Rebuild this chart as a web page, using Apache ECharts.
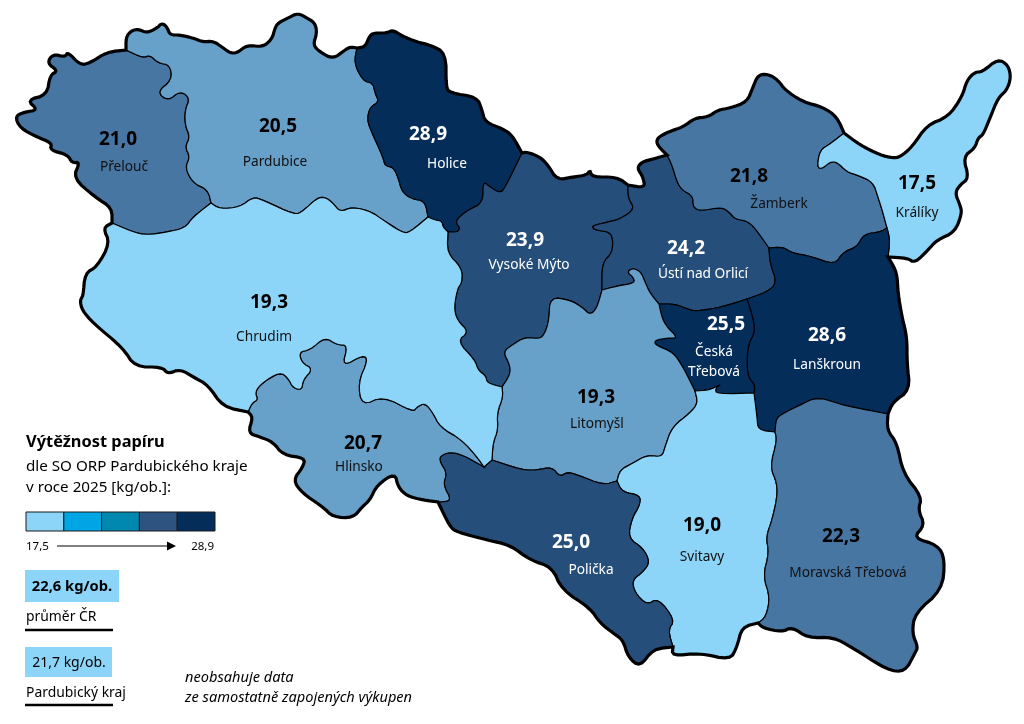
<!DOCTYPE html>
<html><head><meta charset="utf-8">
<style>html,body{margin:0;padding:0;background:#fff}#c{width:1024px;height:724px}</style>
<script src="https://cdn.jsdelivr.net/npm/echarts@6/dist/echarts.min.js"></script>
</head><body><div id="c"></div>
<script>
// ---- data ----
const regionNames = ['Přelouč','Pardubice','Holice','Vysoké Mýto','Ústí nad Orlicí','Žamberk','Králíky','Lanškroun','Česká Třebová','Litomyšl','Svitavy','Moravská Třebová','Polička','Hlinsko','Chrudim'];
const regionValues = [21.0,20.5,28.9,23.9,24.2,21.8,17.5,28.6,25.5,19.3,19.0,22.3,25.0,20.7,19.3];
const regionTiers  = [2,1,4,3,3,2,0,4,4,1,0,2,3,1,0];
const tierColors   = ['#8DD5F8','#67A0C8','#4776A3','#264E7A','#042D5A'];
const legendColors = ['#8DD5F8','#00A5E3','#0088B0','#2F5380','#042D5A'];
const legendEnds   = ['17,5','28,9'];
const valuePos = [[118,140],[278,127],[428,135],[525,241],[686,249],[749,177],[917,184],[827,336],[726,325],[596,398],[702,526],[841,537],[571,543],[363,444],[269,303]];
const namePos  = [[124,167],[275,162],[447,164],[529,265],[703,274],[779,204],[917,213],[827,365],[714,362],[597,424],[702,557],[848,573],[591,570],[359,467],[264,337]];
const nameText = {'Česká Třebová':'Česká\nTřebová'};

// ---- map geometry: shared boundaries (map units) ----
const parTop=[[126,50],[126,37],[131,31],[138,29],[147,33],[157,28],[162,23],[167,27],[170,35],[180,35],[193,38],[203,42],[213,41],[222,47],[230,53],[237,53],[247,45],[263,47],[272,39],[275,28],[278,23],[288,18],[298,13],[307,18],[315,23],[317,33],[313,45],[320,52],[333,59],[345,50],[350,47],[357,48]];
const holTop=[[357,48],[365,47],[370,35],[375,33],[387,33],[393,30],[402,36],[417,42],[430,45],[446,53],[446,87],[450,93],[477,97],[482,110],[485,122],[503,129],[512,135],[522,153]];
const vmTop=[[522,153],[527,152],[540,157],[548,165],[557,180],[573,177],[587,175],[590,170],[592,177],[617,177],[628,185]];
const ustTop=[[628,185],[645,188],[643,177],[637,168],[642,162],[653,159],[667,155]];
const zamTop=[[667,155],[657,145],[657,138],[668,132],[683,127],[695,118],[708,117],[718,110],[730,108],[747,102],[753,87],[758,75],[768,74],[778,80],[785,90],[803,102],[823,107],[837,117],[844,133]];
const kraTop=[[844,133],[860,145],[880,155],[893,158],[900,157],[912,147],[927,125],[948,117],[962,97],[967,80],[975,72],[982,72],[998,59],[1008,65],[1011,77],[1007,90],[998,98],[990,118],[983,135],[978,138],[975,148],[963,157],[969,178],[960,185],[955,193],[960,205],[962,213],[955,232],[937,240],[928,250],[915,263],[907,258],[888,257]];
const lanOut=[[888,257],[890,260],[897,273],[898,293],[902,317],[907,337],[907,363],[910,390],[893,402],[888,414]];
const morOut=[[888,414],[887,430],[897,443],[903,473],[922,497],[918,510],[925,525],[913,538],[938,545],[945,560],[942,590],[915,613],[912,633],[918,647],[915,653],[905,672],[887,670],[853,648],[833,637],[808,638],[792,627],[782,632],[763,628],[758,623]];
const sviOut=[[673,647],[672,656],[700,653],[730,660],[737,647],[742,627],[758,623]];
const polOut=[[438,502],[450,527],[457,532],[487,540],[510,545],[530,560],[552,567],[562,590],[590,608],[600,623],[613,633],[623,640],[628,657],[640,667],[653,649],[673,647]];
const hliOut=[[248,412],[253,417],[248,433],[260,437],[273,442],[283,455],[305,458],[303,467],[293,480],[302,493],[323,507],[333,517],[353,518],[362,507],[370,500],[377,485],[395,473],[398,487],[407,496],[423,500],[438,502]];
const chrOut=[[112,223],[103,228],[110,243],[97,267],[85,273],[83,297],[80,300],[82,310],[93,323],[123,348],[135,367],[162,367],[168,374],[180,369],[195,378],[208,385],[223,407],[248,412]];
const preOut=[[112,223],[112,208],[95,197],[73,178],[80,162],[72,163],[68,155],[50,150],[52,143],[37,137],[20,128],[15,116],[25,112],[38,110],[27,100],[47,95],[50,75],[58,71],[47,63],[53,54],[65,57],[68,52],[80,65],[90,63],[107,52],[126,50]];
const prePar=[[126,50],[143,58],[150,55],[158,63],[170,65],[172,80],[157,92],[168,101],[180,91],[190,98],[185,110],[185,125],[190,137],[185,147],[190,157],[185,168],[193,183],[208,190],[211,203]];
const preChr=[[211,203],[193,217],[185,228],[167,232],[147,235],[133,232],[112,223]];
const parChr=[[211,203],[220,209],[240,207],[253,197],[263,200],[295,215],[303,211],[317,198],[325,197],[333,203],[340,212],[352,207],[370,211],[383,220],[403,233],[410,232],[428,217]];
const parHol=[[357,48],[354,63],[363,81],[373,83],[375,93],[379,102],[370,107],[367,120],[372,133],[383,157],[385,166],[393,167],[398,177],[402,192],[412,199],[425,201],[428,217]];
const holChr=[[428,217],[435,220],[442,221],[443,227],[448,232]];
const holVm=[[448,232],[458,232],[460,228],[456,223],[458,218],[468,210],[483,203],[483,181],[490,187],[500,193],[505,188],[522,153]];
const vmChr=[[448,232],[447,253],[462,268],[462,283],[458,287],[454,307],[457,320],[469,332],[457,341],[475,360],[478,370],[486,376],[487,383],[502,387]];
const vmUst=[[628,185],[628,198],[635,209],[620,219],[608,222],[591,226],[595,230],[610,232],[613,240],[612,253],[602,263],[602,290]];
const vmLit=[[502,387],[510,375],[510,365],[503,352],[512,345],[525,337],[540,339],[545,333],[549,320],[550,297],[570,300],[582,307],[590,315],[597,308],[602,290]];
const ustLit=[[602,290],[617,286],[635,283],[633,277],[627,272],[633,268],[641,272],[645,282],[650,293],[659,304]];
const ustCt=[[659,304],[675,304],[690,310],[697,311],[717,308],[735,303],[747,299]];
const ustLan=[[747,299],[767,292],[777,283],[770,263],[769,248]];
const zamUst=[[667,155],[672,165],[677,182],[682,190],[693,196],[693,207],[700,211],[722,207],[730,213],[735,219],[747,221],[755,228],[769,248]];
const zamLan=[[769,248],[783,247],[792,253],[810,256],[835,265],[843,252],[857,247],[864,234],[880,232],[887,228]];
const zamKra=[[887,228],[883,213],[878,197],[873,182],[857,175],[847,172],[837,162],[830,162],[822,169],[817,167],[820,150],[830,144],[844,133]];
const kraLan=[[887,228],[890,240],[888,257]];
const lanMor=[[888,414],[867,410],[843,405],[837,403],[817,397],[800,405],[780,415],[776,420],[775,432]];
const lanSvi=[[775,432],[758,430],[757,417],[754,393]];
const ctLan=[[747,299],[753,318],[755,332],[748,345],[747,363],[748,377],[755,385],[754,393]];
const ctSvi=[[754,393],[717,394],[715,389],[721,384],[710,390],[695,391]];
const ctLit=[[659,304],[662,318],[667,327],[678,338],[668,338],[655,340],[655,345],[673,352],[683,367],[695,391]];
const litSvi=[[695,391],[698,403],[690,413],[672,427],[665,447],[662,457],[647,455],[633,463],[620,470],[617,481]];
const litPol=[[492,460],[522,470],[537,470],[552,467],[560,477],[567,472],[578,475],[603,485],[617,481]];
const polSvi=[[617,481],[622,492],[640,495],[640,505],[632,518],[628,538],[643,548],[650,562],[643,572],[632,580],[635,593],[647,605],[658,598],[675,620],[668,630],[673,647]];
const sviMor=[[775,432],[777,440],[770,467],[777,483],[777,498],[772,520],[766,537],[769,553],[763,576],[770,597],[766,617],[758,623]];
const chrLit=[[492,460],[493,443],[498,430],[497,413],[503,397],[502,387]];
const chrPol=[[484,467],[492,460]];
const hliChr=[[248,412],[252,403],[258,400],[255,392],[262,383],[280,372],[288,378],[293,388],[302,390],[303,380],[313,369],[302,363],[299,352],[310,350],[325,337],[337,345],[348,345],[342,367],[363,355],[368,360],[358,383],[362,406],[383,396],[413,412],[417,407],[425,403],[433,413],[440,427],[462,440],[477,457],[484,467]];
const hliPol=[[438,502],[452,501],[443,485],[447,473],[440,462],[440,456],[450,452],[463,455],[484,467]];

// smooth a boundary while keeping its end points, so neighbours stay glued
function smooth(a){
  let p=a;
  for(let k=0;k<2;k++){
    const o=[p[0]];
    for(let i=0;i<p.length-1;i++){
      const A=p[i],B=p[i+1];
      if(i>0)o.push([A[0]*.75+B[0]*.25,A[1]*.75+B[1]*.25]);
      if(i<p.length-2)o.push([A[0]*.25+B[0]*.75,A[1]*.25+B[1]*.75]);
    }
    o.push(p[p.length-1]);p=o;
  }
  return p;
}
const cache=new Map();
const S=a=>{if(!cache.has(a))cache.set(a,smooth(a));return cache.get(a);};
const F=a=>S(a), R=a=>S(a).slice().reverse();
function ring(parts){
  const out=[];
  parts.forEach(p=>p.forEach(c=>{out.push([c[0],-c[1]]);}));
  out.push(out[0]);
  return out;
}
const rings={
 'Přelouč':[F(preOut),F(prePar),F(preChr)],
 'Pardubice':[F(parTop),F(parHol),R(parChr),R(prePar)],
 'Holice':[F(holTop),R(holVm),R(holChr),R(parHol)],
 'Vysoké Mýto':[F(vmTop),F(vmUst),R(vmLit),R(vmChr),F(holVm)],
 'Ústí nad Orlicí':[F(ustTop),F(zamUst),R(ustLan),R(ustCt),R(ustLit),R(vmUst)],
 'Žamberk':[F(zamTop),R(zamKra),R(zamLan),R(zamUst)],
 'Králíky':[F(kraTop),R(kraLan),F(zamKra)],
 'Lanškroun':[F(kraLan),F(lanOut),F(lanMor),F(lanSvi),R(ctLan),F(ustLan),F(zamLan)],
 'Česká Třebová':[F(ustCt),F(ctLan),F(ctSvi),R(ctLit)],
 'Litomyšl':[F(ustLit),F(ctLit),F(litSvi),R(litPol),F(chrLit),F(vmLit)],
 'Svitavy':[R(ctSvi),R(lanSvi),F(sviMor),R(sviOut),R(polSvi),R(litSvi)],
 'Moravská Třebová':[R(lanMor),F(morOut),R(sviMor)],
 'Polička':[F(litPol),F(polSvi),R(polOut),F(hliPol),F(chrPol)],
 'Hlinsko':[F(hliChr),R(hliPol),R(hliOut)],
 'Chrudim':[R(preChr),F(parChr),F(holChr),F(vmChr),R(chrLit),R(chrPol),R(hliChr),R(chrOut)]
};
const feature=(name,parts)=>({type:'Feature',properties:{name},geometry:{type:'Polygon',coordinates:[ring(parts)]}});
const orp={type:'FeatureCollection',features:regionNames.map(n=>feature(n,rings[n]))};
const kraj={type:'FeatureCollection',features:[feature('kraj',[F(parTop),F(holTop),F(vmTop),F(ustTop),F(zamTop),F(kraTop),F(lanOut),F(morOut),R(sviOut),R(polOut),R(hliOut),R(chrOut),F(preOut)])]};
echarts.registerMap('orp',orp);
echarts.registerMap('kraj',kraj);

const fmt=v=>v.toFixed(1).replace('.',',');
const font='"Noto Sans"';
const frame={left:0,top:0,width:1024,height:724,aspectScale:1,boundingCoords:[[0,0],[1024,-724]],roam:false,silent:true};
const txt=i=>regionTiers[i]>=3?'#fff':'#000';
const chart=echarts.init(document.getElementById('c'),null,{renderer:'canvas'});

// legend
const g=[];
const T=(x,y,s,o={})=>g.push({type:'text',x,y,z:20,style:Object.assign({text:s,fill:'#000',font:`${o.size||14}px ${font}`,textVerticalAlign:'middle',textAlign:o.align||'left'},o.extra||{})});
T(26,442,'Výtěžnost papíru',{extra:{font:`bold 16.4px ${font}`}});
T(26,467,'dle SO ORP Pardubického kraje',{size:15.2});
T(26,488,'v roce 2025 [kg/ob.]:',{size:15.2});
legendColors.forEach((c,i)=>g.push({type:'rect',z:20,shape:{x:26+i*37.8,y:512,width:37.8,height:19},style:{fill:c,stroke:'#1a1a1a',lineWidth:1}}));
T(26,547,legendEnds[0],{size:11.5});
T(214,547,legendEnds[1],{size:11.5,align:'right'});
g.push({type:'line',z:20,shape:{x1:57,y1:546,x2:170,y2:546},style:{stroke:'#000',lineWidth:1}});
g.push({type:'polygon',z:20,shape:{points:[[167,541.5],[176,546],[167,550.5]]},style:{fill:'#000'}});
g.push({type:'rect',z:20,shape:{x:25,y:570,width:94,height:32},style:{fill:'#8DD5F8'}});
T(72,587,'22,6 kg/ob.',{align:'center',extra:{font:`bold 14.7px ${font}`}});
T(26,617,'průměr ČR',{size:13.9});
g.push({type:'line',z:20,shape:{x1:25,y1:630,x2:113,y2:630},style:{stroke:'#000',lineWidth:2.5}});
g.push({type:'rect',z:20,shape:{x:25,y:647,width:87,height:30},style:{fill:'#8DD5F8'}});
T(69,663,'21,7 kg/ob.',{align:'center',size:14});
T(26,693,'Pardubický kraj',{size:13.9});
g.push({type:'line',z:20,shape:{x1:25,y1:705,x2:113,y2:705},style:{stroke:'#000',lineWidth:2.5}});
T(185,678,'neobsahuje data',{extra:{font:`italic 14.6px ${font}`}});
T(185,698,'ze samostatně zapojených výkupen',{extra:{font:`italic 14.6px ${font}`}});

const toGeo=p=>[p[0],-p[1]];
chart.setOption({
  animation:false,
  backgroundColor:'#fff',
  geo:Object.assign({map:'kraj',z:3,itemStyle:{areaColor:'rgba(0,0,0,0)',borderColor:'#000',borderWidth:3.2},label:{show:false},emphasis:{disabled:true},select:{disabled:true},tooltip:{show:false}},frame),
  graphic:g,
  series:[
    Object.assign({type:'map',map:'orp',z:2,selectedMode:false,label:{show:false},emphasis:{disabled:true},
      itemStyle:{borderColor:'#000',borderWidth:1.2},
      data:regionNames.map((n,i)=>({name:n,value:regionValues[i],itemStyle:{areaColor:tierColors[regionTiers[i]]}}))},frame),
    {type:'scatter',coordinateSystem:'geo',geoIndex:0,z:5,symbolSize:0,silent:true,itemStyle:{opacity:1},
      data:regionNames.map((n,i)=>({name:n,value:toGeo(valuePos[i]),
        label:{show:true,position:'inside',opacity:1,formatter:fmt(regionValues[i]),fontFamily:font,fontWeight:'bold',fontSize:19,color:txt(i)}}))},
    {type:'scatter',coordinateSystem:'geo',geoIndex:0,z:5,symbolSize:0,silent:true,itemStyle:{opacity:1},
      data:regionNames.map((n,i)=>({name:n,value:toGeo(namePos[i]),
        label:{show:true,position:'inside',opacity:1,formatter:nameText[n]||n,fontFamily:font,fontSize:13.7,lineHeight:20,color:regionTiers[i]>=3?'#fff':'#111'}}))}
  ]
});
</script></body></html>
